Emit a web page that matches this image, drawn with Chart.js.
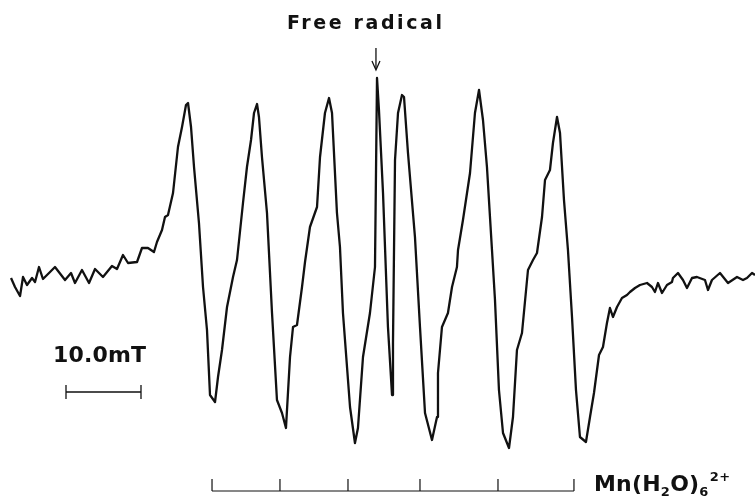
<!DOCTYPE html>
<html>
<head>
<meta charset="utf-8">
<script src="https://cdn.jsdelivr.net/npm/chart.js@4/dist/chart.umd.min.js"></script>
<style>
  html, body { margin: 0; padding: 0; background: #fff; }
  #wrap { width: 755px; height: 498px; position: relative; }
</style>
</head>
<body>
<div id="wrap"><canvas id="espectro"></canvas></div>
<script>
const campo = [
  1.47, 2.00, 2.67, 3.07, 3.60, 4.27, 4.67, 5.20, 5.73, 6.67, 7.33, 8.67, 9.47, 10.00,
  10.93, 11.87, 12.67, 13.73, 14.93, 15.60, 16.40, 17.07, 18.27, 18.93, 19.73, 20.53,
  20.93, 21.60, 22.00, 22.40, 23.07, 23.73, 24.27, 24.80, 25.07, 25.47, 25.87, 26.53,
  27.07, 27.60, 28.00, 28.67, 29.07, 29.60, 30.27, 31.07, 31.60, 32.40, 32.93, 33.47,
  33.87, 34.27, 34.53, 34.93, 35.60, 36.27, 36.93, 37.60, 38.13, 38.67, 39.07, 39.60,
  40.27, 40.67, 41.33, 42.27, 42.67, 43.33, 43.87, 44.27, 44.93, 45.33, 45.73, 46.67,
  47.33, 47.73, 48.40, 49.33, 50.00, 50.27, 50.53, 51.07, 51.73, 52.27, 52.40, 52.67,
  53.07, 53.60, 53.87, 54.40, 55.33, 56.00, 56.67, 57.60, 58.27, 58.40, 58.93, 59.73,
  60.27, 60.93, 61.07, 61.73, 62.27, 62.67, 63.33, 63.87, 64.40, 64.93, 65.60, 66.00,
  66.53, 67.07, 67.87, 68.40, 68.93, 69.60, 70.40, 71.07, 71.60, 72.27, 72.67, 73.33,
  73.73, 74.27, 74.67, 75.20, 75.73, 76.27, 76.80, 77.33, 78.13, 78.67, 79.20, 79.87,
  80.40, 80.93, 81.33, 81.73, 82.27, 82.93, 83.60, 84.00, 84.67, 85.33, 86.27, 86.93,
  87.33, 87.73, 88.27, 88.93, 89.60, 89.73, 90.40, 91.07, 91.60, 92.27, 92.93, 94.00,
  94.40, 94.93, 96.00, 97.07, 98.27, 99.07, 99.60, 100.27, 100.67
];
const intensidade = [
  2, -7, -16, 3, -5, 2, -2, 13, 1, 8, 13, 0, 7, -3,
  10, -3, 11, 3, 14, 11, 25, 17, 18, 32, 32, 28,
  38, 50, 63, 65, 87, 133, 153, 175, 177, 153, 113, 57,
  -7, -50, -115, -122, -97, -70, -27, 3, 20, 77, 113, 140,
  167, 176, 163, 123, 67, -33, -120, -133, -148, -77, -47, -45,
  -7, 18, 53, 73, 123, 167, 182, 167, 67, 33, -33, -127,
  -163, -148, -77, -33, 13, 202, 170, 87, -47, -115, -63, 120,
  167, 185, 183, 127, 43, -47, -133, -160, -137, -93, -47, -33,
  -7, 13, 30, 60, 87, 107, 167, 190, 160, 113, 30, -20,
  -110, -153, -168, -137, -70, -53, 10, 20, 27, 63, 100, 110,
  137, 163, 147, 80, 30, -37, -110, -157, -162, -137, -113, -75,
  -67, -43, -28, -37, -27, -18, -15, -12, -8, -5, -3, -7,
  -12, -3, -13, -5, -2, 2, 7, 0, -8, 2, 3, 0,
  -10, 0, 7, -3, 3, 0, 2, 7, 5
];
// posicoes das seis linhas do Mn(H2O)6 2+ (mT)
const linhasMn = [28.27, 37.33, 46.40, 56.00, 66.40, 76.53];
const radicalLivre = 50.13;
const barraEscala = { inicio: 8.8, comprimento: 10.0 };

const fonte = '"DejaVu Sans", "Liberation Sans", sans-serif';

// escreve o texto ajustando o espacamento para ocupar a largura desejada
function textoLargura(ctx, s, x, y, tam, largura) {
  ctx.font = "bold " + tam + "px " + fonte;
  ctx.letterSpacing = "0px";
  const w = ctx.measureText(s).width;
  const esp = Math.max(0, (largura - w) / Math.max(1, s.length - 1));
  ctx.letterSpacing = esp + "px";
  ctx.fillText(s, x, y);
}

function pedaco(ctx, s, x, y, tam, esp) {
  ctx.font = "bold " + tam + "px " + fonte;
  ctx.letterSpacing = esp + "px";
  ctx.fillText(s, x, y);
  return ctx.measureText(s).width;
}

const anotacoes = {
  id: "anotacoes",
  afterDraw(chart) {
    const ctx = chart.ctx;
    const sx = chart.scales.x;
    const sy = chart.scales.y;
    ctx.save();
    ctx.fillStyle = "#111";
    ctx.strokeStyle = "#111";
    ctx.textBaseline = "alphabetic";
    ctx.textAlign = "left";

    // Free radical + seta
    textoLargura(ctx, "Free radical", 287, 29, 19, 155);
    const xr = sx.getPixelForValue(radicalLivre);
    ctx.lineWidth = 1.3;
    ctx.beginPath();
    ctx.moveTo(xr, 48);
    ctx.lineTo(xr, 69);
    ctx.stroke();
    ctx.beginPath();
    ctx.moveTo(xr - 4, 61);
    ctx.lineTo(xr, 70);
    ctx.lineTo(xr + 4, 61);
    ctx.stroke();

    // barra de escala 10.0 mT
    const x0 = sx.getPixelForValue(barraEscala.inicio);
    const x1 = sx.getPixelForValue(barraEscala.inicio + barraEscala.comprimento);
    const yb = sy.getPixelForValue(-112);
    ctx.lineWidth = 1.3;
    ctx.beginPath();
    ctx.moveTo(x0, yb); ctx.lineTo(x1, yb);
    ctx.moveTo(x0, yb - 7); ctx.lineTo(x0, yb + 7);
    ctx.moveTo(x1, yb - 7); ctx.lineTo(x1, yb + 7);
    ctx.stroke();
    textoLargura(ctx, "10.0mT", 53, 362, 22, 93);

    // diagrama de barras das linhas do Mn
    const yBase = 491;
    const xa = sx.getPixelForValue(linhasMn[0]);
    const xb = sx.getPixelForValue(linhasMn[linhasMn.length - 1]);
    ctx.lineWidth = 1.2;
    ctx.beginPath();
    ctx.moveTo(xa, yBase); ctx.lineTo(xb, yBase);
    linhasMn.forEach((b) => {
      const px = sx.getPixelForValue(b);
      ctx.moveTo(px, yBase); ctx.lineTo(px, yBase - 12);
    });
    ctx.stroke();

    // Mn(H2O)6 2+
    let x = 594;
    x += pedaco(ctx, "Mn(H", x, 491, 22, 0.2);
    x += pedaco(ctx, "2", x, 496, 13, 0.3);
    x += pedaco(ctx, "O)", x, 491, 22, 0.2);
    x += pedaco(ctx, "6", x, 496, 13, 0.3);
    pedaco(ctx, "2+", x + 1, 481, 13, 0.5);
    ctx.restore();
  },
};

new Chart(document.getElementById("espectro"), {
  type: "line",
  data: {
    datasets: [
      {
        label: "EPR",
        data: campo.map((b, i) => ({ x: b, y: intensidade[i] })),
        borderColor: "#111",
        borderWidth: 2.3,
        borderJoinStyle: "round",
        pointRadius: 0,
        tension: 0,
        fill: false,
      },
    ],
  },
  options: {
    responsive: true,
    maintainAspectRatio: false,
    animation: false,
    layout: { padding: 0 },
    plugins: { legend: { display: false }, tooltip: { enabled: false } },
    scales: {
      x: { type: "linear", min: 0, max: 100.67, display: false },
      y: { min: -218, max: 280, display: false },
    },
  },
  plugins: [anotacoes],
});
</script>
</body>
</html>
